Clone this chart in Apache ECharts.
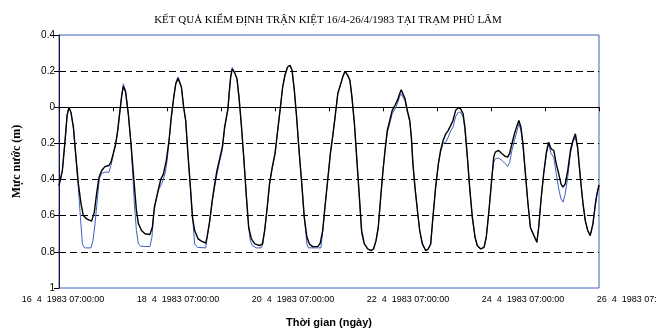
<!DOCTYPE html>
<html>
<head>
<meta charset="utf-8">
<script src="https://cdn.jsdelivr.net/npm/echarts@6/dist/echarts.min.js"></script>
<style>html,body{margin:0;padding:0;background:#fff;}#c{width:656px;height:331px;}</style>
</head>
<body>
<div id="c"></div>
<script>
const titleText = 'KẾT QUẢ KIỂM ĐỊNH TRẬN KIỆT 16/4-26/4/1983 TẠI TRẠM PHÚ LÂM';
const yTicks = [-1, -0.8, -0.6, -0.4, -0.2, 0, 0.2, 0.4];
const dayLabels = ['16  4  1983 07:00:00','18  4  1983 07:00:00','20  4  1983 07:00:00','22  4  1983 07:00:00','24  4  1983 07:00:00','26  4  1983 07:00:00'];

// Observed (black) water level: hours since 16/4 07:00, level (m)
const obsHours = [0,1.5,2.7,3.6,4.4,5.3,6.4,7.4,8.6,9.8,10.8,12.3,14.5,15.7,16.7,17.8,19.0,20.4,22.2,23.1,24.1,25.2,26.1,27.1,27.9,28.6,29.6,30.8,32.0,33.2,34.4,35.3,36.7,38.2,40.4,41.5,42.4,43.4,44.4,45.3,46.4,47.7,48.9,49.9,51.0,51.9,52.9,53.6,54.4,55.4,56.3,57.3,58.4,59.3,60.3,61.8,63.3,65.2,65.8,67.0,68.1,69.2,70.2,71.4,72.6,73.6,74.4,75.1,75.6,76.3,77.0,78.1,79.1,80.0,81.0,82.1,83.3,84.3,85.5,87.0,89.2,90.4,91.4,92.4,93.6,94.8,96.0,97.2,98.4,99.4,100.4,101.6,102.7,103.6,104.6,105.6,106.8,107.9,109.0,110.2,111.3,112.7,115.0,116.1,117.2,118.2,119.4,120.6,121.6,122.7,123.9,125.0,126.1,127.1,128.3,129.3,130.2,131.3,132.3,133.5,134.5,135.7,137.2,138.7,139.8,140.9,141.9,143.1,144.0,144.9,145.9,147.0,148.1,149.3,150.4,151.4,152.1,152.9,153.8,154.8,155.9,156.6,157.3,158.2,159.3,160.3,161.5,163.0,164.1,165.2,166.2,167.4,168.6,169.6,170.7,171.9,173.0,174.1,175.1,176.3,177.5,178.5,179.6,180.4,181.5,182.5,183.7,184.9,185.9,187.4,188.9,189.9,191.1,192.4,193.2,193.9,195.4,196.9,198.4,199.4,200.3,201.3,202.4,203.6,204.4,205.3,206.2,207.3,208.3,209.5,210.4,211.4,212.4,213.2,214.2,215.4,216.6,217.6,218.7,219.9,221.0,222.1,223.1,224.0,225.0,226.1,227.3,228.4,229.5,230.5,231.7,232.9,233.9,235.0,236.1,237.3,238.4,239.1,240.0];
const obsLevel = [-0.433,-0.35,-0.184,-0.045,0.0,-0.027,-0.11,-0.257,-0.424,-0.534,-0.599,-0.618,-0.63,-0.58,-0.479,-0.387,-0.35,-0.328,-0.322,-0.304,-0.257,-0.202,-0.128,-0.017,0.066,0.116,0.084,-0.036,-0.202,-0.387,-0.571,-0.645,-0.682,-0.70,-0.704,-0.664,-0.553,-0.497,-0.442,-0.396,-0.37,-0.294,-0.184,-0.054,0.056,0.13,0.16,0.155,0.112,0.001,-0.073,-0.257,-0.442,-0.608,-0.682,-0.728,-0.741,-0.752,-0.719,-0.627,-0.516,-0.424,-0.35,-0.285,-0.22,-0.11,-0.054,-0.008,0.075,0.167,0.213,0.19,0.158,0.056,-0.091,-0.276,-0.497,-0.664,-0.728,-0.756,-0.765,-0.756,-0.682,-0.571,-0.42,-0.33,-0.257,-0.128,0.001,0.112,0.177,0.223,0.232,0.204,0.093,-0.054,-0.257,-0.424,-0.608,-0.719,-0.756,-0.771,-0.771,-0.752,-0.682,-0.553,-0.405,-0.257,-0.165,-0.054,0.075,0.121,0.167,0.2,0.177,0.149,0.056,-0.091,-0.276,-0.497,-0.682,-0.756,-0.784,-0.793,-0.784,-0.738,-0.664,-0.48,-0.35,-0.239,-0.128,-0.073,-0.017,0.01,0.038,0.075,0.097,0.093,0.047,-0.017,-0.073,-0.165,-0.313,-0.442,-0.571,-0.682,-0.756,-0.793,-0.784,-0.756,-0.608,-0.442,-0.313,-0.239,-0.184,-0.147,-0.128,-0.1,-0.073,-0.017,-0.003,-0.008,-0.036,-0.11,-0.276,-0.442,-0.608,-0.719,-0.765,-0.784,-0.775,-0.719,-0.571,-0.387,-0.276,-0.248,-0.239,-0.257,-0.272,-0.276,-0.254,-0.202,-0.147,-0.1,-0.073,-0.11,-0.202,-0.368,-0.516,-0.664,-0.691,-0.719,-0.747,-0.664,-0.516,-0.368,-0.25,-0.193,-0.23,-0.239,-0.313,-0.368,-0.424,-0.442,-0.424,-0.35,-0.239,-0.184,-0.147,-0.22,-0.387,-0.534,-0.627,-0.682,-0.71,-0.645,-0.534,-0.479,-0.43];

// Computed (blue) water level
const calcHours = [0,1.5,2.7,3.6,4.4,5.3,6.4,7.4,8.6,9.3,10.4,11.3,14.2,15.1,16.0,17.0,17.9,19.0,20.4,22.2,23.1,24.1,25.2,26.1,27.1,27.9,28.6,29.6,30.8,32.0,33.5,34.4,35.3,36.4,40.4,41.3,42.1,42.7,44.1,45.6,47.1,48.0,48.9,49.9,51.0,51.9,52.9,53.6,54.4,55.4,56.3,57.3,58.4,59.6,60.3,61.5,65.2,65.8,67.0,68.1,69.2,70.2,71.4,72.6,73.6,74.4,75.1,75.6,76.3,77.0,78.1,79.1,80.0,81.0,82.1,83.3,84.3,85.0,85.9,87.7,89.9,90.6,91.4,92.4,93.6,94.8,96.0,97.2,98.4,99.4,100.4,101.6,102.7,103.6,104.6,105.6,106.8,107.9,109.0,110.2,110.8,116.4,117.2,118.2,119.4,120.6,121.6,122.7,123.9,125.0,126.1,127.1,128.3,129.3,130.2,131.3,132.3,133.5,134.5,135.4,136.2,137.2,138.7,139.8,140.9,141.9,143.1,144.0,144.9,145.9,147.0,148.1,149.3,150.4,151.4,152.1,152.9,153.8,154.8,155.9,156.6,157.3,158.2,159.3,160.3,161.5,163.0,164.1,165.2,166.2,167.4,168.6,169.6,170.7,171.9,173.0,174.1,175.1,176.3,177.5,178.5,179.6,180.4,181.5,182.5,183.7,184.9,185.9,187.4,188.9,189.9,191.1,192.4,193.2,193.9,195.4,196.9,198.4,199.4,200.3,201.3,202.4,203.6,204.4,205.3,206.2,207.3,208.3,209.5,210.4,211.4,212.4,213.2,214.2,215.4,216.6,217.6,218.7,219.9,221.0,222.1,223.1,224.0,225.0,226.1,227.3,228.4,229.5,230.5,231.7,232.9,233.9,235.0,236.1,237.3,238.4,239.1,240.0];
const calcLevel = [-0.433,-0.35,-0.184,-0.045,0.0,-0.03,-0.115,-0.26,-0.442,-0.571,-0.756,-0.778,-0.778,-0.738,-0.645,-0.516,-0.396,-0.365,-0.359,-0.359,-0.322,-0.262,-0.205,-0.13,-0.02,0.07,0.13,0.09,-0.036,-0.205,-0.534,-0.682,-0.756,-0.769,-0.771,-0.719,-0.59,-0.544,-0.46,-0.424,-0.368,-0.3,-0.19,-0.06,0.056,0.135,0.168,0.16,0.112,0.0,-0.075,-0.26,-0.442,-0.645,-0.756,-0.775,-0.778,-0.725,-0.63,-0.52,-0.44,-0.37,-0.3,-0.235,-0.12,-0.06,-0.01,0.075,0.17,0.22,0.19,0.158,0.056,-0.091,-0.276,-0.497,-0.664,-0.738,-0.765,-0.778,-0.778,-0.756,-0.682,-0.571,-0.425,-0.335,-0.26,-0.13,0.0,0.11,0.177,0.223,0.232,0.204,0.093,-0.054,-0.257,-0.424,-0.608,-0.756,-0.778,-0.778,-0.69,-0.553,-0.405,-0.257,-0.165,-0.054,0.075,0.121,0.167,0.2,0.177,0.149,0.056,-0.091,-0.276,-0.497,-0.70,-0.747,-0.756,-0.784,-0.793,-0.784,-0.738,-0.664,-0.48,-0.35,-0.239,-0.14,-0.09,-0.035,-0.01,0.02,0.06,0.075,0.075,0.035,-0.025,-0.08,-0.165,-0.313,-0.442,-0.571,-0.682,-0.756,-0.793,-0.784,-0.756,-0.608,-0.442,-0.313,-0.245,-0.2,-0.193,-0.165,-0.13,-0.11,-0.05,-0.027,-0.027,-0.054,-0.12,-0.276,-0.442,-0.608,-0.719,-0.765,-0.784,-0.775,-0.719,-0.571,-0.387,-0.304,-0.285,-0.281,-0.294,-0.313,-0.328,-0.304,-0.239,-0.184,-0.128,-0.091,-0.128,-0.21,-0.368,-0.516,-0.664,-0.691,-0.719,-0.747,-0.664,-0.516,-0.368,-0.26,-0.202,-0.257,-0.276,-0.368,-0.451,-0.507,-0.525,-0.479,-0.387,-0.257,-0.193,-0.165,-0.23,-0.39,-0.534,-0.627,-0.682,-0.71,-0.645,-0.534,-0.479,-0.43];

const pairs = (h, v) => h.map((t, i) => [t, v[i]]);

const chart = echarts.init(document.getElementById('c'), null, {renderer: 'canvas'});
chart.setOption({
  animation: false,
  backgroundColor: '#fff',
  title: {
    text: titleText, left: 'center', top: 10,
    textStyle: {fontFamily: 'Liberation Serif', fontSize: 11, fontWeight: 'normal', color: '#000'}
  },
  grid: [
    {left: 59, right: 57, top: 35, bottom: 43, show: true, borderColor: '#3f5fbf', borderWidth: 1, backgroundColor: 'transparent', outerBoundsMode: 'none', containLabel: false},
    {left: 63, right: 18, top: 35, bottom: 43, show: false, outerBoundsMode: 'none', containLabel: false}
  ],
  xAxis: [
    {
      type: 'value', gridIndex: 0, min: 0, max: 240, interval: 24,
      axisLine: {show: true, lineStyle: {color: '#000', width: 1}},
      axisTick: {show: true, length: 4, lineStyle: {color: '#000'}},
      axisLabel: {show: false},
      splitLine: {show: false},
      name: 'Thời gian (ngày)', nameLocation: 'middle', nameGap: 29,
      nameTextStyle: {fontFamily: 'Liberation Sans', fontSize: 11, fontWeight: 'bold', color: '#000'}
    },
    {
      type: 'value', gridIndex: 1, min: 0, max: 10, interval: 2,
      axisLine: {show: false}, axisTick: {show: false}, splitLine: {show: false},
      axisLabel: {
        show: true, margin: 7, color: '#000', fontFamily: 'Liberation Sans', fontSize: 9,
        showMinLabel: true, showMaxLabel: true, hideOverlap: false,
        formatter: v => dayLabels[Math.round(v / 2)]
      }
    }
  ],
  yAxis: [
    {
      type: 'value', gridIndex: 0, min: -1, max: 0.4, interval: 0.2,
      axisLine: {show: true, lineStyle: {color: '#1a1a33', width: 1}},
      axisTick: {show: true, inside: false, length: 5, lineStyle: {color: '#000'}},
      axisLabel: {
        margin: 4, color: '#000', fontFamily: 'Liberation Sans', fontSize: 10,
        formatter: v => String(Math.abs(Math.round(v * 10) / 10))
      },
      splitLine: {show: true, showMinLine: false, showMaxLine: false, lineStyle: {color: '#000', type: [7, 4], width: 1}},
      name: 'Mực nước (m)', nameLocation: 'middle', nameGap: 36, nameRotate: 90,
      nameTextStyle: {fontFamily: 'Liberation Serif', fontSize: 12, fontWeight: 'bold', color: '#000'}
    },
    {type: 'value', gridIndex: 1, min: 0, max: 1, show: false}
  ],
  series: [
    {
      name: 'Tính toán', type: 'line', xAxisIndex: 0, yAxisIndex: 0,
      data: pairs(calcHours, calcLevel), showSymbol: false, symbol: 'none',
      lineStyle: {color: '#3f5fbf', width: 1}, z: 2
    },
    {
      name: 'Thực đo', type: 'line', xAxisIndex: 0, yAxisIndex: 0,
      data: pairs(obsHours, obsLevel), showSymbol: false, symbol: 'none',
      lineStyle: {color: '#000', width: 1.4}, z: 3
    }
  ]
});
</script>
</body>
</html>
